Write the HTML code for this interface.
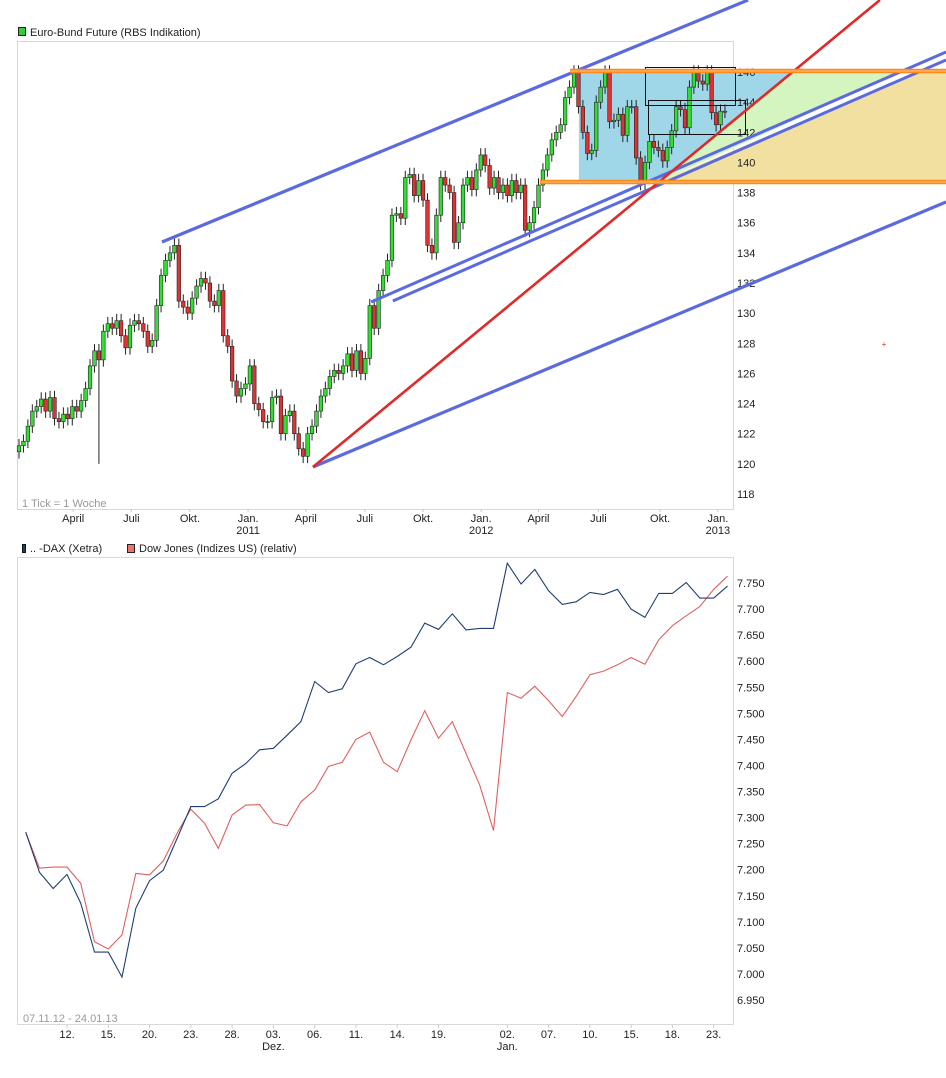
<!DOCTYPE html>
<html><head><meta charset="utf-8"><style>
body{margin:0;background:#fff;}
svg{display:block;font-family:"Liberation Sans",sans-serif;font-size:11px;}
</style></head><body>
<svg id="c" width="946" height="1078" viewBox="0 0 946 1078" xmlns="http://www.w3.org/2000/svg">
<g id="topchart"></g>
<g id="botchart"></g>
</svg>
<script>
// ---------- top chart data ----------
const closes = [121.2,121.5,122.5,123.5,123.8,124.3,123.5,124.4,123.0,122.8,123.3,123.0,123.8,
123.5,124.2,125.0,126.5,127.5,126.9,128.8,129.3,129.0,
129.5,128.5,127.7,129.2,129.5,129.3,128.8,127.8,128.2,
130.5,132.5,133.5,134.0,134.5,
130.8,130.4,130.0,131.0,131.8,132.3,132.0,130.8,130.5,131.5,128.5,127.8,125.5,124.5,125.0,125.3,126.5,124.0,123.6,122.8,122.8,124.4,124.5,122.0,123.2,123.5,122.0,121.0,120.5,122.0,
122.5,123.5,124.5,125.0,125.8,126.2,126.0,126.5,127.3,126.2,127.5,126.0,127.0,130.5,129.0,131.5,132.5,133.5,136.5,136.6,136.3,139.0,139.2,137.8,138.8,137.5,134.5,134.0,136.5,139.0,138.5,138.0,134.7,136.0,138.5,139.0,
138.2,139.5,140.5,139.8,138.3,139.0,138.0,138.5,137.8,138.8,138.0,138.5,135.5,136.0,137.0,
138.5,139.5,140.5,141.5,142.0,142.5,144.3,
145.0,146.0,143.7,142.0,140.6,140.8,144.0,145.0,146.0,142.7,142.8,143.2,141.8,143.7,143.7,140.3,138.6,140.0,141.4,141.0,140.8,140.1,141.0,142.1,143.7,143.5,142.3,145.0,146.0,145.4,145.2,146.0,143.3,142.5,143.4,143.4];
const firstOpen = 120.8;
const yTicksTop = [118,120,122,124,126,128,130,132,134,136,138,140,142,144,146];
const xLabelsTop = ["April","Juli","Okt.","Jan.","April","Juli","Okt.","Jan.","April","Juli","Okt.","Jan."];
const xLabelWeeks = [12.2,25.3,38.5,51.6,64.6,77.9,91.0,104.1,117.0,130.5,144.4,157.4];
const xYearLabels = {3:"2011",7:"2012",11:"2013"};
const upperLine = [[32.2,134.72],[164.2,150.78]];
const lowerLine = [[66.2,119.79],[208.8,137.38]];
const mid1Line = [[79.3,130.74],[208.8,147.33]];
const mid2Line = [[84.2,130.81],[208.8,146.80]];
const redLine = [[66.2,119.79],[193.9,150.78]];
const resTop = 146.07, resBot = 138.70;

// ---------- bottom chart data ----------
const dax = [7.272,7.195,7.164,7.191,7.136,7.042,7.042,6.994,7.126,7.179,7.199,7.260,7.321,7.321,7.336,7.385,7.404,7.430,7.433,7.458,7.484,7.561,7.540,7.547,7.595,7.607,
7.593,7.609,7.627,7.673,7.661,7.691,7.660,7.663,7.663,7.788,7.748,7.776,7.735,7.709,7.714,7.732,7.728,7.738,7.700,7.684,7.730,7.730,7.751,7.721,7.721,7.744];
const dow = [7.272,7.203,7.205,7.205,7.174,7.062,7.048,7.075,7.193,7.190,7.217,7.270,7.316,7.289,7.241,7.305,7.324,7.325,7.290,7.284,7.330,7.353,7.398,7.406,7.450,7.464,
7.406,7.388,7.449,7.505,7.452,7.484,7.423,7.362,7.275,7.540,7.529,7.552,7.524,7.494,7.532,7.574,7.581,7.593,7.607,7.594,7.641,7.668,7.687,7.705,7.738,7.763];
const yTicksBot = [6.95,7.0,7.05,7.1,7.15,7.2,7.25,7.3,7.35,7.4,7.45,7.5,7.55,7.6,7.65,7.7,7.75];
const xLabelsBot = ["12.","15.","20.","23.","28.","03.","06.","11.","14.","19.","02.","07.","10.","15.","18.","23."];
const xLabelIdx = [3,6,9,12,15,18,21,24,27,30,35,38,41,44,47,50];
const xSubLabels = {5:"Dez.",10:"Jan."};

const NS="http://www.w3.org/2000/svg";
function mk(parent,tag,attrs,text){const e=document.createElementNS(NS,tag);for(const k in attrs)e.setAttribute(k,attrs[k]);if(text!==undefined)e.textContent=text;parent.appendChild(e);return e;}
const xw=i=>19+i*4.44;
const yp=v=>494-(v-118)*15.07;
const topG=document.getElementById('topchart');

let f=mk(topG,'rect',{x:17.5,y:41.5,width:716,height:468,fill:'none',stroke:'#d8d8d8'});



function px(p){return [xw(p[0]),yp(p[1])];}
function xAtV(line,v){const a=px(line[0]),b=px(line[1]);const y=yp(v);return a[0]+(y-a[1])*(b[0]-a[0])/(b[1]-a[1]);}
const yT=yp(resTop),yB=yp(resBot);
const rT=xAtV(redLine,resTop),rB=xAtV(redLine,resBot);
const m1T=xAtV(mid1Line,resTop),m2T=xAtV(mid2Line,resTop);
const bx=xw(126.1);
let p=mk(topG,'polygon',{points:`${bx},${yT} ${rT},${yT} ${rB},${yB} ${bx},${yB}`,fill:'#9fd7e8'});


p=mk(topG,'polygon',{points:`${rT},${yT} ${m1T},${yT} ${rB},${yB}`,fill:'#d4f5c0'});


p=mk(topG,'polygon',{points:`${rB},${yB} ${m2T},${yT} 946,${yT} 946,${yB}`,fill:'#f2e0a0'});



yTicksTop.forEach(v=>{const t=mk(topG,'text',{x:737,y:yp(v)+4,fill:'#222'},String(v));

});
xLabelsTop.forEach((s,k)=>{const x=xw(xLabelWeeks[k]);
mk(topG,'line',{x1:x,y1:509,x2:x,y2:512,stroke:'#ccc'});
const t=mk(topG,'text',{x:x,y:522,'text-anchor':'middle',fill:'#222'},s);


if(xYearLabels[k]){const t2=mk(topG,'text',{x:x,y:534,'text-anchor':'middle',fill:'#222'},xYearLabels[k]);

}});

let prev=firstOpen;
closes.forEach((c,i)=>{const o=prev;prev=c;const hi=Math.max(o,c)+0.45,lo=(i===18?120.0:Math.min(o,c)-0.45);
const x=xw(i);const g=mk(topG,'g',{});


mk(g,'line',{x1:x,y1:yp(hi),x2:x,y2:yp(lo),stroke:'#222','stroke-width':1});
const y1=yp(Math.max(o,c)),h=Math.max(1,yp(Math.min(o,c))-y1);
mk(g,'rect',{x:x-1.8,y:y1,width:3.6,height:h,fill:c>=o?'#33dd33':'#dd3333',stroke:'#222','stroke-width':0.6});});

[[645,67,90,38],[648,100,97,34]].forEach(r=>{const e=mk(topG,'rect',{x:r[0]+.5,y:r[1]+.5,width:r[2],height:r[3],fill:'none',stroke:'#111','stroke-width':1});

});

function tl(line,color,w,name){const a=px(line[0]),b=px(line[1]);const e=mk(topG,'line',{x1:a[0],y1:a[1],x2:b[0],y2:b[1],stroke:color,'stroke-width':w});

}
tl(upperLine,'#5a6be0',3.2,'upper-channel-line');
tl(lowerLine,'#5a6be0',3.2,'lower-channel-line');
tl(mid1Line,'#5a6be0',3,'mid-channel-line-1');
tl(mid2Line,'#5a6be0',3,'mid-channel-line-2');
tl(redLine,'#e02a2a',2.6,'red-trend-line');
[[resTop,124.1,'resistance-line-top'],[resBot,117.3,'support-line-bottom']].forEach(a=>{const y=yp(a[0]);
const e=mk(topG,'line',{x1:xw(a[1]),y1:y,x2:946,y2:y,stroke:'#ff8a1a','stroke-width':4.5});


mk(topG,'line',{x1:xw(a[1]),y1:y,x2:946,y2:y,stroke:'#ffc080','stroke-width':1});});

let e=mk(topG,'rect',{x:18.5,y:27.5,width:7,height:8,fill:'#33cc33',stroke:'#222'});


e=mk(topG,'text',{x:30,y:36,fill:'#222'},'Euro-Bund Future (RBS Indikation)');


e=mk(topG,'text',{x:22,y:507,fill:'#999'},'1 Tick = 1 Woche');


e=mk(topG,'text',{x:884,y:347,fill:'#c33','font-size':'8px','text-anchor':'middle'},'+');



// ---------- bottom chart ----------
const botG=document.getElementById('botchart');
const xb=i=>25.7+i*13.76;
const yb=v=>583-(v-7.75)*521.3;
e=mk(botG,'rect',{x:17.5,y:557.5,width:716,height:467,fill:'none',stroke:'#d8d8d8'});


yTicksBot.forEach(v=>{const t=mk(botG,'text',{x:737,y:yb(v)+4,fill:'#222'},v.toFixed(3));

});
xLabelsBot.forEach((s,k)=>{const x=xb(xLabelIdx[k]);
mk(botG,'line',{x1:x,y1:1025,x2:x,y2:1028,stroke:'#ccc'});
const t=mk(botG,'text',{x:x,y:1038,'text-anchor':'middle',fill:'#222'},s);


if(xSubLabels[k]){const t2=mk(botG,'text',{x:x,y:1050,'text-anchor':'middle',fill:'#222'},xSubLabels[k]);

}});
function series(arr,color,name){const pts=arr.map((v,i)=>xb(i).toFixed(1)+','+yb(v).toFixed(1)).join(' ');
const l=mk(botG,'polyline',{points:pts,fill:'none',stroke:color,'stroke-width':1.1});

}
series(dow,'#e06060','dow-jones-line');
series(dax,'#1f3f73','dax-line');
e=mk(botG,'rect',{x:22.5,y:544.5,width:3,height:8,fill:'#1f3f73',stroke:'#111'});


e=mk(botG,'text',{x:30,y:552,fill:'#222'},'.. -DAX (Xetra)');


e=mk(botG,'rect',{x:127.5,y:544.5,width:7,height:8,fill:'#f07070',stroke:'#222'});


e=mk(botG,'text',{x:139,y:552,fill:'#222'},'Dow Jones (Indizes US) (relativ)');


e=mk(botG,'text',{x:23,y:1022,fill:'#999'},'07.11.12 - 24.01.13');


</script>
</body></html>
